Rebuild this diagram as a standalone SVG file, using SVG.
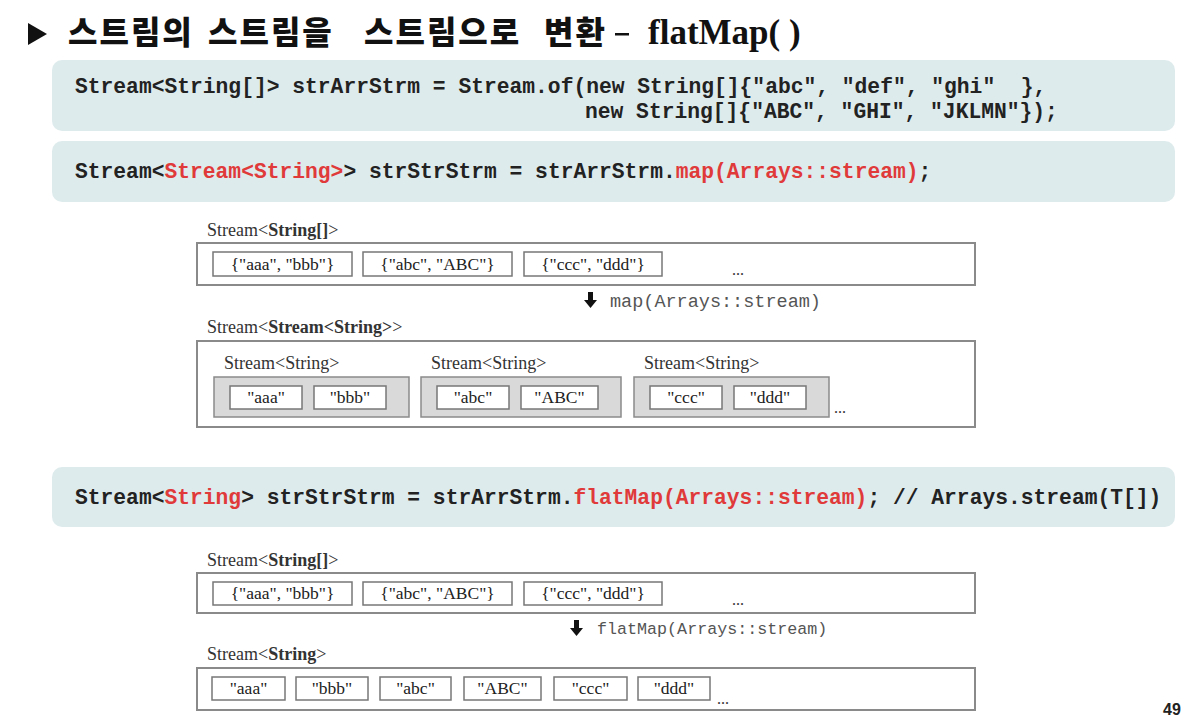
<svg xmlns="http://www.w3.org/2000/svg" width="1190" height="720" viewBox="0 0 1190 720">
<style>
.code{font-family:"Liberation Mono",monospace;font-weight:bold;font-size:21.3px;fill:#222}
.red{fill:#e03a3a}
.cbox{fill:#deebed}
.lbl{font-family:"Liberation Serif",serif;font-size:18px;fill:#333}
.b{font-weight:bold}
.outer{fill:#fff;stroke:#8a8a8a;stroke-width:2}
.gbox{fill:#d9d9d9;stroke:#8a8a8a;stroke-width:1.5}
.wbox{fill:#fff;stroke:#777;stroke-width:1.5}
.item{font-family:"Liberation Serif",serif;font-size:17.5px;fill:#222;text-anchor:middle}
.dots{font-family:"Liberation Serif",serif;font-size:16px;fill:#333}
.op{font-family:"Liberation Mono",monospace;fill:#555}
.kr{font-family:"Noto Sans CJK KR",sans-serif;font-weight:900;font-size:32px;letter-spacing:2px;fill:#111}
</style>
<rect width="1190" height="720" fill="#fff"/>

<g id="title">
<polygon points="28,23 28,45 47,34" fill="#111"/>
<text class="kr" y="44"><tspan x="68">스트림의</tspan><tspan x="208">스트림을</tspan><tspan x="364">스트림으로</tspan><tspan x="544">변환</tspan></text>
<rect x="615" y="33" width="14" height="2.5" fill="#111"/>
<text x="648" y="44" font-family="Liberation Serif,serif" font-weight="bold" font-size="35" fill="#111">flatMap( )</text>
</g>

<g id="code1">
<rect class="cbox" x="52" y="60" width="1123" height="71" rx="10"/>
<text class="code" x="75" y="93" xml:space="preserve">Stream&lt;String[]&gt; strArrStrm = Stream.of(new String[]{"abc", "def", "ghi"  },</text>
<text class="code" x="585" y="118">new String[]{"ABC", "GHI", "JKLMN"});</text>
</g>

<g id="code2">
<rect class="cbox" x="52" y="141" width="1123" height="61" rx="10"/>
<text class="code" x="75" y="178">Stream&lt;<tspan class="red">Stream&lt;String&gt;</tspan>&gt; strStrStrm = strArrStrm.<tspan class="red">map(Arrays::stream)</tspan>;</text>
</g>

<g id="diag1-top">
<text class="lbl" x="207" y="236">Stream&lt;<tspan class="b">String[]</tspan>&gt;</text>
<rect class="outer" x="197" y="243" width="778" height="42"/>
<rect class="wbox" x="213" y="252" width="139" height="24"/>
<text class="item" x="282.5" y="270">{"aaa", "bbb"}</text>
<rect class="wbox" x="363" y="252" width="149" height="24"/>
<text class="item" x="437.5" y="270">{"abc", "ABC"}</text>
<rect class="wbox" x="524" y="252" width="138" height="24"/>
<text class="item" x="593" y="270">{"ccc", "ddd"}</text>
<text class="dots" x="732" y="275">...</text>
</g>

<g id="diag1-bottom">
<text class="lbl" x="207" y="333">Stream&lt;<tspan class="b">Stream&lt;String&gt;</tspan>&gt;</text>
<rect class="outer" x="197" y="341" width="778" height="86"/>
<text class="lbl" x="224" y="369">Stream&lt;String&gt;</text>
<text class="lbl" x="431" y="369">Stream&lt;String&gt;</text>
<text class="lbl" x="644" y="369">Stream&lt;String&gt;</text>
<rect class="gbox" x="214" y="377" width="195" height="40"/>
<rect class="gbox" x="421" y="377" width="200" height="40"/>
<rect class="gbox" x="634" y="377" width="195" height="40"/>
<rect class="wbox" x="230" y="386" width="72" height="23"/>
<text class="item" x="266" y="403">"aaa"</text>
<rect class="wbox" x="314" y="386" width="72" height="23"/>
<text class="item" x="350" y="403">"bbb"</text>
<rect class="wbox" x="437" y="386" width="72" height="23"/>
<text class="item" x="473" y="403">"abc"</text>
<rect class="wbox" x="521" y="386" width="77" height="23"/>
<text class="item" x="559.5" y="403">"ABC"</text>
<rect class="wbox" x="650" y="386" width="72" height="23"/>
<text class="item" x="686" y="403">"ccc"</text>
<rect class="wbox" x="734" y="386" width="72" height="23"/>
<text class="item" x="770" y="403">"ddd"</text>
<text class="dots" x="834" y="413">...</text>
</g>

<g id="code3">
<rect class="cbox" x="52" y="467" width="1123" height="60" rx="10"/>
<text class="code" x="75" y="504">Stream&lt;<tspan class="red">String</tspan>&gt; strStrStrm = strArrStrm.<tspan class="red">flatMap(Arrays::stream)</tspan>; // Arrays.stream(T[])</text>
</g>

<g id="diag2-top">
<text class="lbl" x="207" y="566">Stream&lt;<tspan class="b">String[]</tspan>&gt;</text>
<rect class="outer" x="197" y="573" width="778" height="40"/>
<rect class="wbox" x="213" y="582" width="139" height="23"/>
<text class="item" x="282.5" y="599">{"aaa", "bbb"}</text>
<rect class="wbox" x="363" y="582" width="149" height="23"/>
<text class="item" x="437.5" y="599">{"abc", "ABC"}</text>
<rect class="wbox" x="524" y="582" width="138" height="23"/>
<text class="item" x="593" y="599">{"ccc", "ddd"}</text>
<text class="dots" x="732" y="605">...</text>
</g>

<g id="diag2-bottom">
<text class="lbl" x="207" y="660">Stream&lt;<tspan class="b">String</tspan>&gt;</text>
<rect class="outer" x="197" y="668" width="778" height="42"/>
<rect class="wbox" x="212" y="677" width="73" height="23"/>
<text class="item" x="248.5" y="694">"aaa"</text>
<rect class="wbox" x="296" y="677" width="72" height="23"/>
<text class="item" x="332" y="694">"bbb"</text>
<rect class="wbox" x="380" y="677" width="71" height="23"/>
<text class="item" x="415.5" y="694">"abc"</text>
<rect class="wbox" x="464" y="677" width="77" height="23"/>
<text class="item" x="502.5" y="694">"ABC"</text>
<rect class="wbox" x="554" y="677" width="73" height="23"/>
<text class="item" x="590.5" y="694">"ccc"</text>
<rect class="wbox" x="638" y="677" width="72" height="23"/>
<text class="item" x="674" y="694">"ddd"</text>
<text class="dots" x="717" y="704">...</text>
</g>

<g id="connectors">
<path d="M588,292 h5 v8 h4 l-6.5,8 l-6.5,-8 h4 z" fill="#111"/>
<text class="op" x="610" y="307" font-size="18.5">map(Arrays::stream)</text>
<path d="M574,620 h5 v8 h4 l-6.5,8 l-6.5,-8 h4 z" fill="#111"/>
<text class="op" x="597" y="634" font-size="16.7">flatMap(Arrays::stream)</text>
</g>

<g id="page">
<text x="1163" y="715" font-family="Liberation Sans,sans-serif" font-weight="bold" font-size="16" fill="#222">49</text>
</g>
</svg>
